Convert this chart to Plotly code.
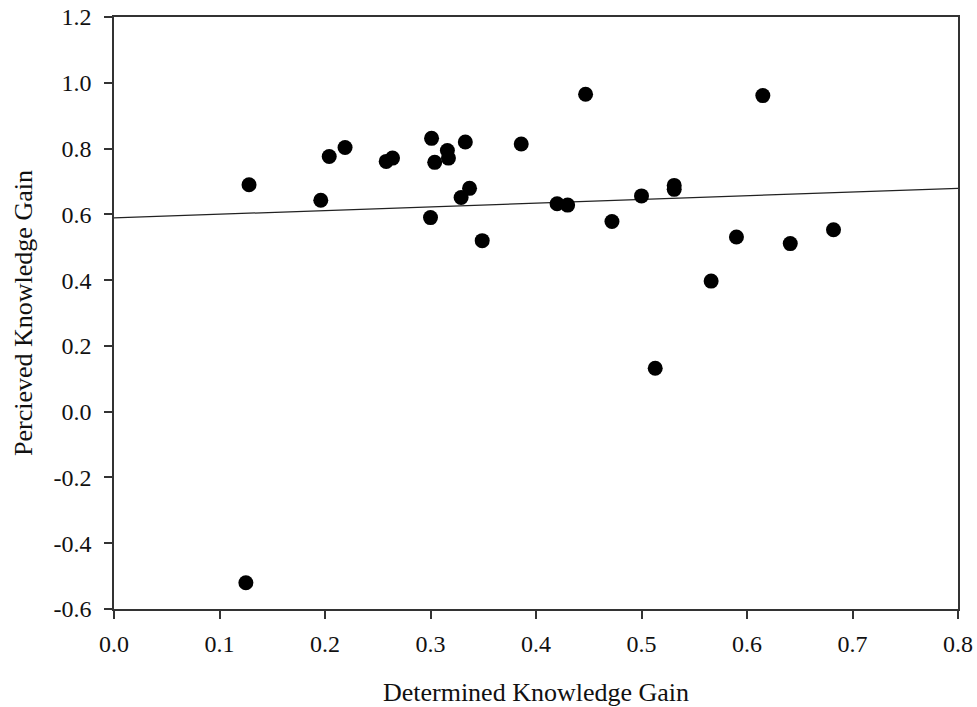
import plotly.graph_objects as go

# Data
determined = [0.128, 0.196, 0.204, 0.219, 0.258, 0.264, 0.301, 0.304, 0.316, 0.317,
              0.333, 0.337, 0.329, 0.300, 0.349, 0.386, 0.447, 0.420, 0.430, 0.472,
              0.500, 0.531, 0.531, 0.615, 0.590, 0.641, 0.682, 0.566, 0.513, 0.125]
perceived = [0.690, 0.643, 0.776, 0.803, 0.761, 0.771, 0.831, 0.758, 0.794, 0.771,
             0.820, 0.679, 0.651, 0.590, 0.520, 0.814, 0.965, 0.632, 0.628, 0.578,
             0.656, 0.688, 0.676, 0.961, 0.531, 0.511, 0.553, 0.397, 0.132, -0.520]

fit_intercept = 0.589
fit_slope = 0.1125
fit_x = [0.0, 0.8]
fit_y = [fit_intercept + fit_slope * v for v in fit_x]

x_ticks = [0.0, 0.1, 0.2, 0.3, 0.4, 0.5, 0.6, 0.7, 0.8]
y_ticks = [-0.6, -0.4, -0.2, 0.0, 0.2, 0.4, 0.6, 0.8, 1.0, 1.2]

font_family = "Liberation Serif, Times New Roman, serif"

fig = go.Figure()
fig.add_trace(go.Scatter(x=fit_x, y=fit_y, mode="lines",
                         line=dict(color="#222222", width=1.3),
                         showlegend=False, hoverinfo="skip", cliponaxis=False))
fig.add_trace(go.Scatter(x=determined, y=perceived, mode="markers",
                         marker=dict(color="black", size=15,
                                     line=dict(width=0)),
                         showlegend=False))

axis_common = dict(showgrid=False, zeroline=False, showline=True,
                   linecolor="#333333", linewidth=1.5, mirror=True,
                   ticks="outside", ticklen=8, tickwidth=1.5, tickcolor="#333333",
                   ticklabeloverflow="allow", automargin=False,
                   tickfont=dict(family=font_family, size=24, color="#111111"))

fig.update_xaxes(range=[0.0, 0.8], tickvals=x_ticks,
                 ticktext=[f"{v:.1f}" for v in x_ticks],
                 ticklabelstandoff=4,
                 title=dict(text="Determined Knowledge Gain",
                            font=dict(family=font_family, size=26, color="#111111"),
                            standoff=28),
                 **axis_common)
fig.update_yaxes(range=[-0.6, 1.2], tickvals=y_ticks,
                 ticktext=[f"{v:.1f}" for v in y_ticks],
                 ticklabelstandoff=8,
                 title=dict(text="Percieved Knowledge Gain",
                            font=dict(family=font_family, size=26, color="#111111"),
                            standoff=13),
                 **axis_common)

fig.update_layout(width=977, height=707,
                  margin=dict(l=114, r=19, t=17, b=98),
                  plot_bgcolor="white", paper_bgcolor="white")

fig.write_html("out.html", config={"displayModeBar": False},
               post_script="document.body.style.margin='0';"
                           "document.documentElement.style.overflow='hidden';")
